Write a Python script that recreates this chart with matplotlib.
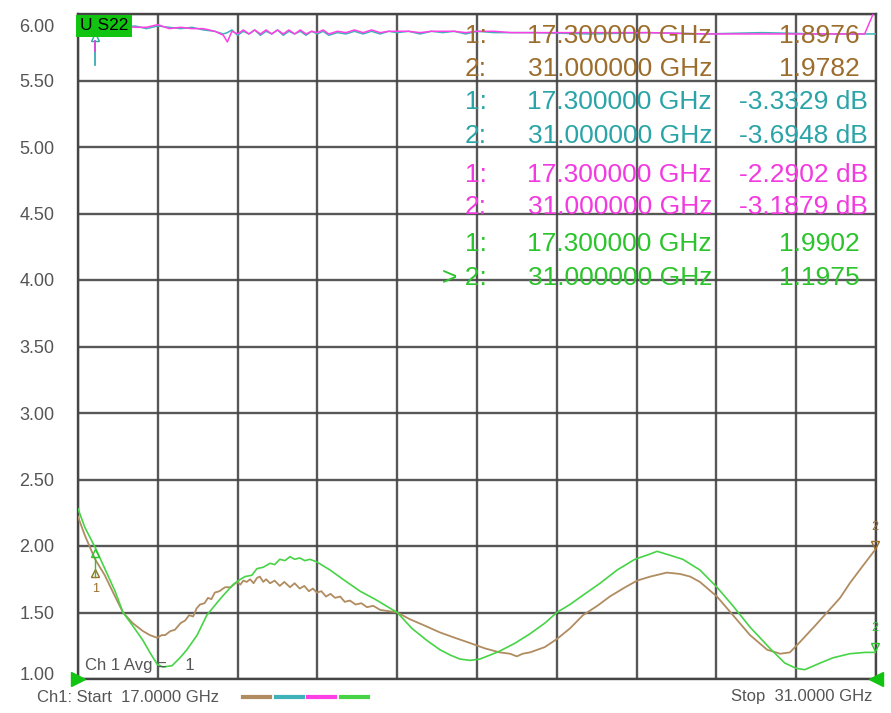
import matplotlib
matplotlib.use("Agg")
import matplotlib.pyplot as plt
import matplotlib.transforms as mtrans

plt.rcParams['font.family'] = ['Liberation Sans', 'DejaVu Sans']

# ---------------- data ----------------
f_start, f_stop = 17.0, 31.0
y_ticks = [1.00, 1.50, 2.00, 2.50, 3.00, 3.50, 4.00, 4.50, 5.00, 5.50, 6.00]
y_tick_labels = ["1.00", "1.50", "2.00", "2.50", "3.00", "3.50", "4.00", "4.50", "5.00", "5.50", "6.00"]

brown_f = [17.00, 17.12, 17.30, 17.47, 17.65, 17.79, 17.96, 18.14, 18.26, 18.39, 18.47, 18.53,
           18.62, 18.70, 18.80, 18.88, 18.95, 19.02, 19.08, 19.14, 19.22, 19.28, 19.34, 19.40,
           19.48, 19.58, 19.68, 19.79, 19.85, 19.90, 19.96, 20.02, 20.08, 20.14, 20.19, 20.25,
           20.30, 20.37, 20.45, 20.54, 20.62, 20.72, 20.80, 20.89, 20.97, 21.05, 21.12, 21.19,
           21.27, 21.35, 21.43, 21.51, 21.60, 21.68, 21.77, 21.87, 21.97, 22.07, 22.18, 22.30,
           22.45, 22.60, 22.82, 23.09, 23.35, 23.61, 23.88, 24.14, 24.40, 24.58, 24.70, 24.80,
           24.93, 25.19, 25.40, 25.63, 25.86, 26.11, 26.33, 26.60, 26.81, 27.04, 27.33, 27.56,
           27.74, 27.91, 28.21, 28.49, 28.79, 29.09, 29.32, 29.49, 29.67, 29.93, 30.14, 30.37,
           30.54, 30.75, 31.00]
brown_v = [2.22, 2.08, 1.90, 1.78, 1.62, 1.50, 1.42, 1.36, 1.33, 1.31, 1.33, 1.33,
           1.36, 1.37, 1.42, 1.44, 1.48, 1.47, 1.53, 1.56, 1.57, 1.61, 1.60, 1.65,
           1.66, 1.69, 1.69, 1.73, 1.71, 1.74, 1.73, 1.75, 1.72, 1.76, 1.77, 1.73,
           1.75, 1.72, 1.74, 1.70, 1.73, 1.69, 1.72, 1.68, 1.70, 1.66, 1.68, 1.65,
           1.66, 1.62, 1.64, 1.61, 1.62, 1.58, 1.59, 1.56, 1.57, 1.54, 1.55, 1.52,
           1.51, 1.50, 1.45, 1.40, 1.35, 1.31, 1.27, 1.23, 1.20, 1.19, 1.17, 1.19,
           1.20, 1.24, 1.30, 1.38, 1.48, 1.55, 1.62, 1.69, 1.74, 1.77, 1.80, 1.79,
           1.77, 1.73, 1.62, 1.48, 1.33, 1.22, 1.19, 1.20, 1.28, 1.40, 1.50, 1.61,
           1.72, 1.84, 1.98]

green_f = [17.00, 17.12, 17.30, 17.47, 17.65, 17.79, 17.96, 18.14, 18.26, 18.39, 18.49, 18.65,
           18.79, 18.91, 19.09, 19.26, 19.49, 19.72, 19.85, 19.93, 20.05, 20.14, 20.25, 20.37,
           20.45, 20.54, 20.63, 20.72, 20.80, 20.89, 20.98, 21.07, 21.19, 21.42, 21.68, 21.95,
           22.21, 22.60, 22.86, 23.12, 23.35, 23.53, 23.70, 23.88, 24.05, 24.23, 24.40, 24.67,
           24.93, 25.19, 25.40, 25.63, 25.86, 26.16, 26.46, 26.77, 27.04, 27.16, 27.39, 27.61,
           27.91, 28.21, 28.49, 28.79, 29.14, 29.40, 29.60, 29.75, 30.02, 30.25, 30.54, 30.81,
           31.00]
green_v = [2.28, 2.14, 1.99, 1.83, 1.66, 1.50, 1.40, 1.29, 1.20, 1.11, 1.09, 1.10,
           1.16, 1.22, 1.33, 1.48, 1.60, 1.71, 1.75, 1.77, 1.78, 1.83, 1.84, 1.87,
           1.86, 1.90, 1.89, 1.92, 1.90, 1.91, 1.89, 1.90, 1.88, 1.82, 1.74, 1.66,
           1.60, 1.50, 1.38, 1.29, 1.22, 1.18, 1.15, 1.14, 1.15, 1.18, 1.21, 1.27,
           1.34, 1.42, 1.50, 1.56, 1.63, 1.72, 1.82, 1.90, 1.94, 1.96, 1.93, 1.90,
           1.82, 1.69, 1.55, 1.39, 1.23, 1.12, 1.08, 1.07, 1.12, 1.16, 1.19, 1.20,
           1.20]

top_f = [17.00, 17.80, 18.00, 18.20, 18.40, 18.60, 18.80, 19.00, 19.20, 19.40, 19.55, 19.62,
         19.70, 19.80, 19.90, 20.00, 20.10, 20.20, 20.30, 20.40, 20.50, 20.60, 20.70, 20.80,
         20.90, 21.00, 21.10, 21.20, 21.30, 21.40, 21.55, 21.70, 21.85, 22.00, 22.15, 22.30,
         22.45, 22.60, 22.80, 23.00, 23.20, 23.40, 23.60, 23.80, 24.00, 24.30, 24.60, 25.00,
         26.00, 27.00, 28.00, 29.00, 30.00, 30.80, 31.00]
teal_v = [5.90, 5.90, 5.91, 5.89, 5.91, 5.90, 5.89, 5.90, 5.88, 5.87, 5.85, 5.86,
          5.88, 5.84, 5.87, 5.85, 5.88, 5.84, 5.87, 5.85, 5.88, 5.84, 5.87, 5.85,
          5.87, 5.84, 5.87, 5.85, 5.87, 5.84, 5.86, 5.85, 5.87, 5.85, 5.87, 5.85,
          5.87, 5.86, 5.87, 5.85, 5.87, 5.86, 5.87, 5.85, 5.87, 5.86, 5.86, 5.86,
          5.85, 5.86, 5.85, 5.86, 5.85, 5.85, 5.85]
magenta_v = [5.91, 5.91, 5.90, 5.90, 5.92, 5.89, 5.90, 5.89, 5.89, 5.87, 5.84, 5.79,
             5.87, 5.85, 5.88, 5.85, 5.88, 5.85, 5.88, 5.85, 5.88, 5.85, 5.88, 5.85,
             5.88, 5.85, 5.87, 5.86, 5.88, 5.85, 5.87, 5.86, 5.88, 5.86, 5.88, 5.86,
             5.87, 5.87, 5.87, 5.86, 5.87, 5.87, 5.87, 5.86, 5.87, 5.87, 5.86, 5.86,
             5.86, 5.86, 5.85, 5.85, 5.85, 5.85, 6.05]

marker_rows = [
    ("1:", "17.300000 GHz", "1.8976", "brown"),
    ("2:", "31.000000 GHz", "1.9782", "brown"),
    ("1:", "17.300000 GHz", "-3.3329 dB", "teal"),
    ("2:", "31.000000 GHz", "-3.6948 dB", "teal"),
    ("1:", "17.300000 GHz", "-2.2902 dB", "magenta"),
    ("2:", "31.000000 GHz", "-3.1879 dB", "magenta"),
    ("1:", "17.300000 GHz", "1.9902", "green"),
    ("> 2:", "31.000000 GHz", "1.1975", "green"),
]

trace_col = {"brown": "#b08c60", "teal": "#3fb2b8", "magenta": "#ff3fe6", "green": "#46d446"}
text_col = {"brown": "#9c6d2c", "teal": "#2aa4a8", "magenta": "#f23ae0", "green": "#2cc42c"}

# ---------------- figure ----------------
W, H = 891, 713
fig = plt.figure(figsize=(W / 100, H / 100), dpi=100)
ax = fig.add_axes([78 / W, (H - 679) / H, 798 / W, 665 / H])
ax.set_xlim(f_start, f_stop)
ax.set_ylim(1.0, 6.0)

grid_c = "#454545"
ax.set_xticks([f_start + i * (f_stop - f_start) / 10 for i in range(11)])
ax.set_yticks(y_ticks)
ax.set_yticklabels(y_tick_labels)
ax.tick_params(axis='x', length=0, labelbottom=False)
ax.tick_params(axis='y', length=0, pad=17, labelsize=13, labelcolor="#555555")
ax.grid(True, color=grid_c, lw=1.7, alpha=0.9)
for s in ax.spines.values():
    s.set_color(grid_c)
    s.set_linewidth(1.7)
ax.set_axisbelow(True)

for lab in ax.get_yticklabels():
    if lab.get_text() == "6.00":
        lab.set_transform(lab.get_transform() + mtrans.ScaledTranslation(0, -12 / 100, fig.dpi_scale_trans))
    if lab.get_text() == "1.00":
        lab.set_transform(lab.get_transform() + mtrans.ScaledTranslation(0, 6 / 100, fig.dpi_scale_trans))

# traces
ax.plot(top_f, teal_v, color=trace_col["teal"], lw=1.1, zorder=3)
ax.plot(top_f, magenta_v, color=trace_col["magenta"], lw=1.1, zorder=3)
ax.plot(brown_f, brown_v, color=trace_col["brown"], lw=1.3, zorder=3)
ax.plot(green_f, green_v, color=trace_col["green"], lw=1.2, zorder=4)

# marker glyphs on the lower traces
ax.plot([17.3], [1.80], marker='^', mfc='none', mec=text_col["brown"], ms=6, zorder=5)
ax.text(17.3, 1.68, "1", color=text_col["brown"], fontsize=9, ha='center', va='center', zorder=5)
ax.plot([17.3], [1.95], marker='^', mfc='none', mec=text_col["green"], ms=6, zorder=5)
ax.plot([17.3, 17.3], [1.77, 1.91], color=text_col["green"], lw=1, zorder=5)
ax.plot([30.98], [2.01], marker='v', mfc='none', mec=text_col["brown"], ms=6, zorder=5, clip_on=False)
ax.text(30.98, 2.14, "2", color=text_col["brown"], fontsize=9, ha='center', va='center', zorder=5)
ax.plot([30.98], [1.24], marker='v', mfc='none', mec=text_col["green"], ms=6, zorder=5, clip_on=False)
ax.text(30.98, 1.38, "2", color=text_col["green"], fontsize=9, ha='center', va='center', zorder=5)
# marker glyphs on top traces
ax.plot([17.3], [5.83], marker='^', mfc='none', mec=text_col["teal"], ms=6, zorder=5)
ax.plot([17.3, 17.3], [5.62, 5.80], color=text_col["teal"], lw=1.2, zorder=5)
ax.plot([17.3, 17.3], [5.72, 5.80], color=text_col["magenta"], lw=1.2, zorder=5)

# active trace label
ax.text(17.04, 5.91, "U S22", fontsize=12.5, color="black", ha='left', va='center', zorder=6,
        bbox=dict(boxstyle="square,pad=0.22", fc="#11c411", ec="none"))

# channel average text
ax.text(17.12, 1.10, "Ch 1 Avg =    1", fontsize=12, color="#555555", ha='left', va='center', zorder=6)

# marker table
row_y_px = [36, 69, 102, 136, 175, 207, 244, 278]
for (num, freq, val, key), ypx in zip(marker_rows, row_y_px):
    yy = 1 - ypx / H
    c = text_col[key]
    fig.text(487 / W, yy, num, color=c, fontsize=19, ha='right', va='center', zorder=10)
    fig.text(712 / W, yy, freq, color=c, fontsize=19, ha='right', va='center', zorder=10)
    xr = 868 if "dB" in val else 860
    fig.text(xr / W, yy, val, color=c, fontsize=19, ha='right', va='center', zorder=10)

# start / stop annotations and trace legend swatches
fig.text(37 / W, 1 - 697 / H, "Ch1: Start  17.0000 GHz", fontsize=12, color="#555555", ha='left', va='center')
fig.text(872 / W, 1 - 697 / H, "Stop  31.0000 GHz", fontsize=12, color="#555555", ha='right', va='center')
for i, key in enumerate(["brown", "teal", "magenta", "green"]):
    x0 = 243 + i * 32.5
    fig.add_artist(plt.Line2D([x0 / W, (x0 + 27) / W], [1 - 697 / H, 1 - 697 / H],
                              color=trace_col[key], lw=3, transform=fig.transFigure))

# reference-level triangles
ax.plot([f_start], [1.0], marker='>', color="#11c411", ms=10, clip_on=False, zorder=7)
ax.plot([f_stop], [1.0], marker='<', color="#11c411", ms=10, clip_on=False, zorder=7)

fig.savefig("out.png", dpi=100, facecolor="white")
